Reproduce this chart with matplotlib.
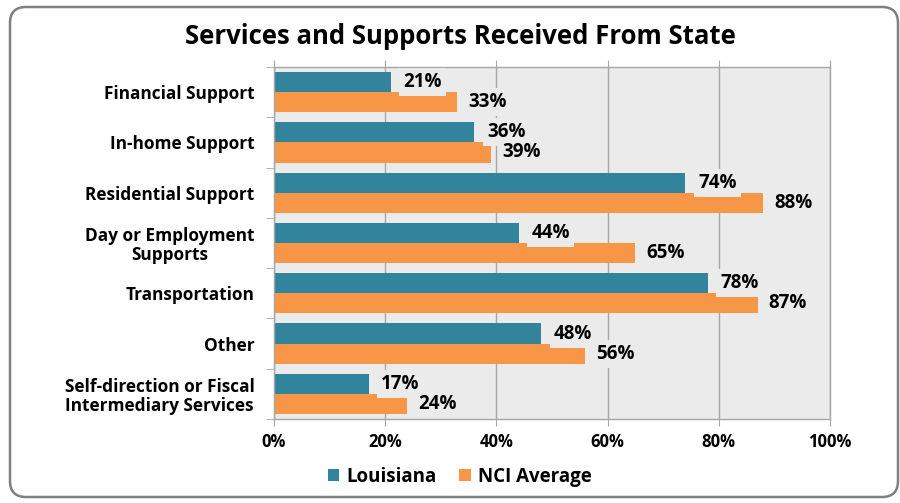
import matplotlib
matplotlib.use("Agg")
import matplotlib.pyplot as plt
import numpy as np
from matplotlib.patches import FancyBboxPatch
from matplotlib.transforms import IdentityTransform

categories = ["Financial Support", "In-home Support", "Residential Support",
              "Day or Employment\nSupports", "Transportation", "Other",
              "Self-direction or Fiscal\nIntermediary Services"]
louisiana = [21, 36, 74, 44, 78, 48, 17]
nci_average = [33, 39, 88, 65, 87, 56, 24]
xticks = [0, 20, 40, 60, 80, 100]
xtick_labels = ["0%", "20%", "40%", "60%", "80%", "100%"]
series_names = ["Louisiana", "NCI Average"]

TEAL = "#31849B"
ORANGE = "#F79646"
GRID = "#A6A6A6"
BG = "#EBEBEB"
FONT = ["Open Sans", "DejaVu Sans"]
plt.rcParams["font.family"] = FONT

fig = plt.figure(figsize=(9, 5.03), dpi=100)
ax = fig.add_axes([274/900, 1-419/503, (830-274)/900, (419-67)/503])
ax.set_facecolor(BG)

y = np.arange(len(categories))
h = 0.4
b1 = ax.barh(y - h/2, louisiana, height=h, color=TEAL, label=series_names[0], zorder=2)
b2 = ax.barh(y + h/2, nci_average, height=h, color=ORANGE, label=series_names[1], zorder=2)

ax.set_xlim(0, 100)
ax.set_ylim(len(categories) - 0.5, -0.5)
ax.set_xticks(xticks)
ax.set_xticklabels(xtick_labels, fontsize=12, fontweight="bold")
ax.set_yticks(y)
ax.set_yticklabels(categories, fontsize=12.4, fontweight="bold", multialignment="center", linespacing=1.1)
ax.set_yticks(np.arange(-0.5, len(categories), 1), minor=True)
ax.tick_params(axis="y", which="major", length=0, pad=14)
ax.tick_params(axis="y", which="minor", length=6, color=GRID, direction="out")
ax.xaxis.grid(True, color=GRID, lw=1, zorder=1)
ax.set_axisbelow(True)
for s in ax.spines.values():
    s.set_color(GRID)
    s.set_linewidth(1)
ax.tick_params(axis="x", which="major", top=True, length=5, color=GRID, direction="out",
               labeltop=False, pad=5)

for yi, v in zip(y - h/2, louisiana):
    ax.text(v + 2.3, yi, f"{v}%", va="center", ha="left", fontsize=13.5, fontweight="bold",
            bbox=dict(boxstyle="square,pad=0.22", fc=BG, ec="none"), zorder=3)
for yi, v in zip(y + h/2, nci_average):
    ax.text(v + 2.0, yi, f"{v}%", va="center", ha="left", fontsize=13.5, fontweight="bold",
            bbox=dict(boxstyle="square,pad=0.22", fc=BG, ec="none"), zorder=3)

fig.text(0.512, 1-37/503, "Services and Supports Received From State", ha="center", va="center",
         fontsize=18.5, fontweight="bold")

fig.legend(handles=[b1, b2], labels=series_names, loc="center", bbox_to_anchor=(0.511, 1-477/503),
           ncol=2, frameon=False, prop=dict(family=FONT, weight="bold", size=13.5),
           handlelength=0.6, handleheight=0.6, handletextpad=0.4, columnspacing=1.2)

border = FancyBboxPatch((10, 503-497), 888, 490, boxstyle="round,pad=0,rounding_size=16",
                        transform=IdentityTransform(), fill=False, ec="#808080", lw=1.8)
fig.patches.append(border)

fig.savefig("out.png", dpi=100, facecolor="white")
